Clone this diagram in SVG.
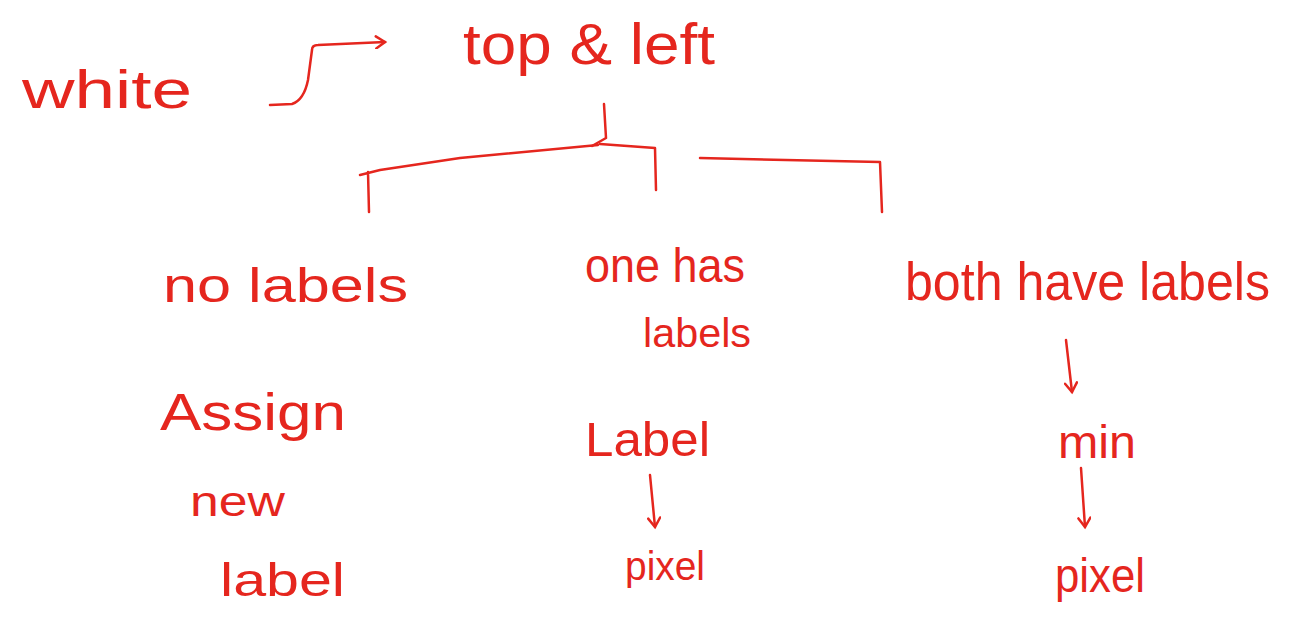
<svg xmlns="http://www.w3.org/2000/svg" width="1296" height="620" viewBox="0 0 1296 620">
<style>
text{font-family:"Liberation Sans",Arial,sans-serif;fill:#e5261e;font-weight:normal}
.c{fill:none;stroke:#e5261e;stroke-width:2.5;stroke-linecap:round;stroke-linejoin:round}
</style>
<defs>
<marker id="ah" viewBox="0 0 14 14" refX="11" refY="7" markerWidth="14" markerHeight="14" markerUnits="userSpaceOnUse" orient="auto">
<polyline points="2,1 11,7 2,13" fill="none" stroke="#e5261e" stroke-width="2.5" stroke-linecap="round"/>
</marker>
</defs>
<rect width="1296" height="620" fill="#fff"/>
<g id="connectors">
<path class="c" d="M270,105 L292,104 Q304,100 308,80 L312,50 Q312,45 318,45 L385,42" marker-end="url(#ah)"/>
<path class="c" d="M604,104 L606,138 L592,146"/>
<path class="c" d="M600,144 L655,148 L656,190"/>
<path class="c" d="M598,145 L460,158 L380,170 L360,175 M368,172 L369,212"/>
<path class="c" d="M700,158 L880,162 L882,212"/>
<path class="c" d="M650,475 L655,527" marker-end="url(#ah)"/>
<path class="c" d="M1066,340 L1072,392" marker-end="url(#ah)"/>
<path class="c" d="M1081,468 L1085,527" marker-end="url(#ah)"/>
</g>
<g id="white"><text x="22" y="108" font-size="54" textLength="170" lengthAdjust="spacingAndGlyphs">white</text></g>
<g id="topleft"><text x="463" y="64" font-size="58" textLength="252" lengthAdjust="spacingAndGlyphs">top &amp; left</text></g>
<g id="nolabels"><text x="163" y="302" font-size="48" textLength="245" lengthAdjust="spacingAndGlyphs">no   labels</text></g>
<g id="onehas"><text x="585" y="282" font-size="48" textLength="160" lengthAdjust="spacingAndGlyphs">one has</text><text x="643" y="347" font-size="40" textLength="108" lengthAdjust="spacingAndGlyphs">labels</text></g>
<g id="bothhave"><text x="905" y="300" font-size="54" textLength="365" lengthAdjust="spacingAndGlyphs">both have labels</text></g>
<g id="assign"><text x="160" y="430" font-size="52" textLength="186" lengthAdjust="spacingAndGlyphs">Assign</text><text x="190" y="516" font-size="42" textLength="95" lengthAdjust="spacingAndGlyphs">new</text><text x="220" y="596" font-size="46" textLength="125" lengthAdjust="spacingAndGlyphs">label</text></g>
<g id="label"><text x="585" y="456" font-size="48" textLength="125" lengthAdjust="spacingAndGlyphs">Label</text></g>
<g id="pixel1"><text x="625" y="580" font-size="40" textLength="80" lengthAdjust="spacingAndGlyphs">pixel</text></g>
<g id="min"><text x="1058" y="458" font-size="46" textLength="78" lengthAdjust="spacingAndGlyphs">min</text></g>
<g id="pixel2"><text x="1055" y="592" font-size="48" textLength="90" lengthAdjust="spacingAndGlyphs">pixel</text></g>
</svg>
